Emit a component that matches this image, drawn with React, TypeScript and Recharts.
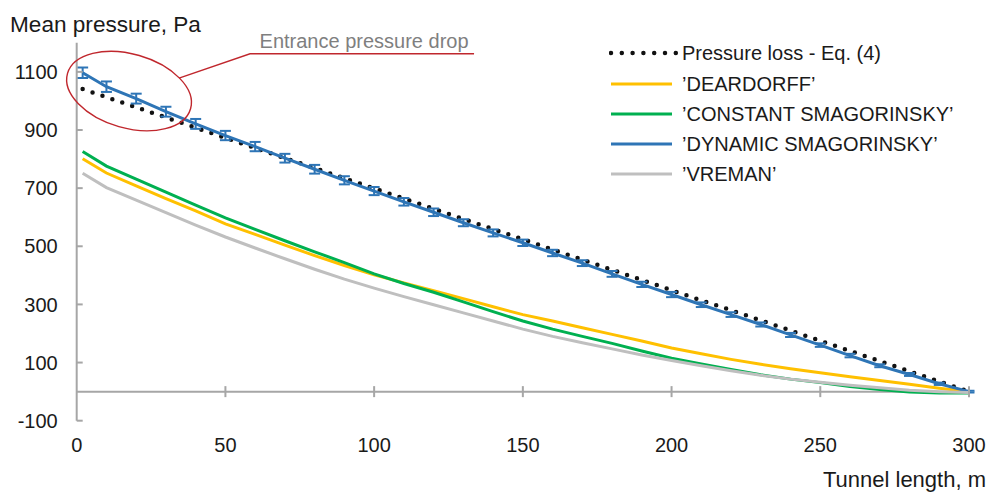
import React from 'react';
import { LineChart, Line, XAxis, YAxis, ReferenceLine, ReferenceDot, ErrorBar, Legend } from 'recharts';

// ---- data ----
const tunnelLength = [2, 10, 20, 30, 40, 50, 60, 70, 80, 90, 100, 110, 120, 130, 140, 150, 160, 170, 180, 190, 200, 210, 220, 230, 240, 250, 260, 270, 280, 290, 300];
const pressureLossEq4 = [1041, 1013, 978, 943, 908, 873, 838, 803, 769, 734, 699, 664, 629, 594, 559, 524, 489, 454, 419, 384, 349, 314, 280, 245, 210, 175, 140, 105, 70, 35, 0];
const deardorff = [801, 752, 708, 664, 622, 577, 541, 504, 468, 434, 402, 374, 347, 320, 292, 265, 243, 220, 197, 174, 150, 130, 111, 94, 79, 65, 51, 38, 25, 12, 0];
const constantSmagorinsky = [826, 776, 731, 686, 642, 598, 558, 519, 481, 444, 405, 372, 342, 309, 275, 243, 215, 190, 166, 140, 115, 95, 76, 58, 43, 31, 18, 7, -1, -5, -5];
const dynamicSmagorinsky = [1097, 1049, 1008, 963, 921, 881, 843, 803, 765, 727, 690, 653, 617, 581, 546, 512, 477, 442, 405, 369, 334, 299, 265, 231, 195, 160, 124, 89, 59, 27, 0];
const dynamicError = [18, 18, 17, 17, 17, 16, 16, 15, 15, 14, 14, 13, 13, 12, 12, 11, 11, 10, 10, 9, 9, 8, 8, 7, 7, 6, 6, 5, 5, 4, 3];
const vreman = [751, 702, 659, 616, 573, 532, 494, 457, 421, 387, 356, 327, 299, 271, 243, 215, 190, 168, 147, 126, 107, 89, 72, 56, 43, 32, 22, 13, 5, 0, -3];

const xTicks = [0, 50, 100, 150, 200, 250, 300];
const yTicks = [-100, 100, 300, 500, 700, 900, 1100];

const seriesLabels = {
  eq4: 'Pressure loss - Eq. (4)',
  dear: '\u2019DEARDORFF\u2019',
  cons: '\u2019CONSTANT SMAGORINSKY\u2019',
  dyn: '\u2019DYNAMIC SMAGORINSKY\u2019',
  vre: '\u2019VREMAN\u2019',
};

const annotationPoint = { x: 17.6, y: 1034, label: 'Entrance pressure drop' };

const yTitle = 'Mean pressure, Pa';
const xTitle = 'Tunnel length, m';

// ---- styles ----
const FONT = '"Liberation Sans", Arial, Helvetica, sans-serif';
const TEXT = '#1a1a1a';
const AXIS = '#a6a6a6';
const BLACK = '#111111';
const YELLOW = '#FFC000';
const GREEN = '#00B050';
const BLUE = '#2E75B6';
const GRAY = '#BFBFBF';
const RED = '#C0272D';
const Y_TICK_GAP = 19;

const data = tunnelLength.map((x, i) => ({
  x,
  eq4: pressureLossEq4[i],
  dear: deardorff[i],
  cons: constantSmagorinsky[i],
  dyn: dynamicSmagorinsky[i],
  dynErr: dynamicError[i],
  vre: vreman[i],
}));

const legendItems = [
  { key: 'eq4', color: BLACK, dotted: true },
  { key: 'dear', color: YELLOW, dotted: false },
  { key: 'cons', color: GREEN, dotted: false },
  { key: 'dyn', color: BLUE, dotted: false },
  { key: 'vre', color: GRAY, dotted: false },
];

const renderLegend = () => (
  <div style={{ fontFamily: FONT, fontSize: 20, color: TEXT }}>
    {legendItems.map((it) => (
      <div key={it.key} style={{ display: 'flex', alignItems: 'center', height: 30.25 }}>
        <svg width={70} height={10} style={{ marginLeft: 9, flex: 'none', display: 'block' }}>
          {it.dotted ? (
            <line x1={2} y1={5} x2={67} y2={5} stroke={it.color} strokeWidth={4.5} strokeLinecap="round" strokeDasharray="0 10.8" />
          ) : (
            <line x1={2} y1={5} x2={63} y2={5} stroke={it.color} strokeWidth={3} />
          )}
        </svg>
        <span style={{ marginLeft: 3, whiteSpace: 'nowrap', lineHeight: '22px' }}>
          {(seriesLabels as any)[it.key]}
        </span>
      </div>
    ))}
  </div>
);

const YTick = (props: any) => {
  const { x, y, payload } = props;
  return (
    <g>
      <line x1={x + Y_TICK_GAP} x2={x + Y_TICK_GAP + 6} y1={y} y2={y} stroke={AXIS} strokeWidth={2} />
      <text x={x} y={y} dy="0.36em" textAnchor="end" fontSize={20} fill={TEXT} fontFamily={FONT}>
        {payload.value}
      </text>
    </g>
  );
};

const XTickMark = (props: any) => {
  const { cx, cy } = props;
  return <line x1={cx} x2={cx} y1={cy - 5.5} y2={cy + 5.5} stroke={AXIS} strokeWidth={2} />;
};

const Annotation = (props: any) => {
  const { cx, cy } = props;
  return (
    <g>
      <ellipse cx={cx} cy={cy} rx={64} ry={37} transform={`rotate(16 ${cx} ${cy})`} fill="none" stroke={RED} strokeWidth={1.4} />
      <polyline
        points={`${cx + 50},${cy - 13} ${cx + 121},${cy - 37.3} ${cx + 345},${cy - 37.3}`}
        fill="none"
        stroke={RED}
        strokeWidth={1.4}
      />
      <text x={cx + 130.5} y={cy - 43.5} fontSize={20} fill="#7f7f7f" fontFamily={FONT}>
        {annotationPoint.label}
      </text>
    </g>
  );
};

export default function App() {
  return (
    <div style={{ position: 'absolute', left: 0, top: 0, width: 987, height: 493, overflow: 'hidden', background: '#fff', fontFamily: FONT }}>
      <LineChart width={987} height={493} data={data} margin={{ top: 42.8, right: 18, bottom: 42.3, left: 6.7 }}>
        <XAxis
          dataKey="x"
          type="number"
          domain={[0, 300]}
          ticks={xTicks}
          interval={0}
          axisLine={false}
          tickLine={false}
          tickSize={0}
          tickMargin={17}
          height={30}
          tick={{ fontSize: 20, fill: TEXT, fontFamily: FONT }}
        />
        <YAxis
          type="number"
          domain={[-100, 1200]}
          ticks={yTicks}
          interval={0}
          width={70}
          tickSize={0}
          tickMargin={Y_TICK_GAP}
          tickLine={false}
          axisLine={{ stroke: AXIS, strokeWidth: 2 }}
          tick={<YTick />}
        />
        <ReferenceLine y={0} stroke={AXIS} strokeWidth={2} />
        {xTicks.filter((v) => v > 0).map((v) => (
          <ReferenceDot key={v} x={v} y={0} r={0} shape={<XTickMark />} />
        ))}
        <Line dataKey="eq4" name={seriesLabels.eq4} type="linear" stroke={BLACK} strokeWidth={4.5} strokeLinecap="round" strokeDasharray="0 10.46" dot={false} activeDot={false} isAnimationActive={false} />
        <Line dataKey="dear" name={seriesLabels.dear} type="linear" stroke={YELLOW} strokeWidth={3} dot={false} activeDot={false} isAnimationActive={false} />
        <Line dataKey="cons" name={seriesLabels.cons} type="linear" stroke={GREEN} strokeWidth={3} dot={false} activeDot={false} isAnimationActive={false} />
        <Line dataKey="dyn" name={seriesLabels.dyn} type="linear" stroke={BLUE} strokeWidth={3} dot={false} activeDot={false} isAnimationActive={false}>
          <ErrorBar dataKey="dynErr" direction="y" width={5.5} strokeWidth={2} stroke={BLUE} isAnimationActive={false} />
        </Line>
        <Line dataKey="vre" name={seriesLabels.vre} type="linear" stroke={GRAY} strokeWidth={3} dot={false} activeDot={false} isAnimationActive={false} />
        <ReferenceDot x={annotationPoint.x} y={annotationPoint.y} r={0} shape={<Annotation />} />
        <Legend
          layout="vertical"
          align="center"
          verticalAlign="middle"
          content={renderLegend}
          wrapperStyle={{ position: 'absolute', left: 600, top: 38.2, width: 387, height: 160, margin: 0 }}
        />
      </LineChart>
      <div style={{ position: 'absolute', left: 10, top: 14, fontSize: 22.6, lineHeight: '22px', color: TEXT, whiteSpace: 'nowrap' }}>
        {yTitle}
      </div>
      <div style={{ position: 'absolute', right: 1, top: 469, fontSize: 22, lineHeight: '22px', color: TEXT, whiteSpace: 'nowrap' }}>
        {xTitle}
      </div>
    </div>
  );
}
